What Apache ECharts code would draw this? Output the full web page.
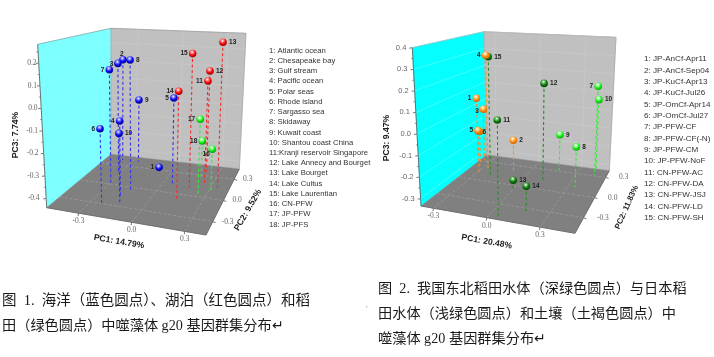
<!doctype html><html><head><meta charset="utf-8"><style>html,body{margin:0;background:#fff}#c{width:714px;height:357px}</style>
<script src="https://cdn.jsdelivr.net/npm/echarts@6/dist/echarts.min.js"></script></head><body><div id="c"></div>
<script>
// ---- Data: figure 1 ----
const a_names=["1: Atlantic ocean","2: Chesapeake bay","3: Gulf stream","4: Pacific ocean","5: Polar seas","6: Rhode island","7: Sargasso sea","8: Skidaway","9: Kuwait coast","10: Shantou coast China","11:Kranji reservoir Singapore","12: Lake Annecy and Bourget","13: Lake Bourget","14: Lake Cultus","15: Lake Laurentian","16: CN-PFW","17: JP-PFW","18: JP-PFS"];
const a_pc1=[-0.095,-0.368,-0.316,-0.174,0.069,-0.238,-0.293,-0.140,-0.261,-0.147,0.250,0.216,0.344,0.148,0.175,0.312,0.248,0.203];
const a_pc2=[0.321,0.381,0.194,-0.149,0.098,-0.287,0.013,-0.066,0.384,-0.240,0.196,0.358,0.159,-0.076,0.107,0.116,0.048,0.280];
const a_pc3=[-0.435,0.118,0.128,-0.090,-0.009,-0.105,0.122,0.188,-0.100,-0.127,0.068,0.089,0.269,0.059,0.213,-0.244,-0.089,-0.258];
const a_group=["ocean","ocean","ocean","ocean","ocean","ocean","ocean","ocean","ocean","ocean","lake","lake","lake","lake","lake","paddy","paddy","paddy"];
const a_labelSide=["L","T","TL","L","L","L","L","R","R","R","L","R","R","L","L","BL","L","L"];
// ---- Data: figure 2 ----
const b_names=["1: JP-AnCf-Apr11","2: JP-AnCf-Sep04","3: JP-KuCf-Apr13","4: JP-KuCf-Jul26","5: JP-OmCf-Apr14","6: JP-OmCf-Jul27","7: JP-PFW-CF","8: JP-PFW-CF(-N)","9: JP-PFW-CM","10: JP-PFW-NoF","11: CN-PFW-AC","12: CN-PFW-DA","13: CN-PFW-JSJ","14: CN-PFW-LD","15: CN-PFW-SH"];
const b_pc1=[-0.409,-0.106,-0.345,-0.254,-0.282,-0.332,0.417,0.345,0.172,0.400,0.049,0.122,-0.005,0.178,-0.193];
const b_pc2=[0.356,0.226,0.318,0.172,0.102,0.232,0.313,0.103,0.317,0.410,-0.478,0.140,-0.044,-0.371,0.067];
const b_pc3=[0.010,-0.170,-0.040,0.298,-0.103,-0.145,0.145,-0.127,-0.139,0.048,0.101,0.176,-0.293,-0.210,0.307];
const b_group=["soil","soil","soil","soil","soil","soil","jp","jp","jp","jp","cn","cn","cn","cn","cn"];
const b_labelSide=["L","R","LL","L","L","BR","L","R","R","R","R","R","R","R","R"];
const a_ticks3=[-0.4,-0.3,-0.2,-0.1,0,0.1,0.2], b_ticks3=[-0.3,-0.2,-0.1,0,0.1,0.2,0.3,0.4];
const ticks12=[-0.3,0,0.3];
const captions=[
 {x:2,y:302,s:14.5,t:"图  1.  海洋（蓝色圆点）、湖泊（红色圆点）和稻"},{x:2,y:327,s:14.2,t:"田（绿色圆点）中噬藻体 g20 基因群集分布↵"},
 {x:378,y:290,s:14.2,t:"图  2.  我国东北稻田水体（深绿色圆点）与日本稻"},{x:378,y:315,s:14.2,t:"田水体（浅绿色圆点）和土壤（土褐色圆点）中"},{x:378,y:340,s:14.2,t:"噬藻体 g20 基因群集分布↵"}];
// ---- Styling / geometry ----
const colors={ocean:["#9a9aff","#0a0af0","#00007a","#3434ee"],lake:["#ffa0a0","#f40808","#900000","#f02c2c"],paddy:["#b0ffb0","#10ee10","#009000","#30ee30"],soil:["#ffd8a0","#ff8c10","#c06000","#f09030"],jp:["#c0ffc0","#18f018","#00a000","#30ee30"],cn:["#90d090","#0a7a0a","#004000","#2a8a2a"]};
const boxA={A:[46.7,207.7],B:[111,154.3],C:[239.3,169],D:[206,235],Ap:[37.7,44.3],Bp:[111,28.3],Cp:[246,33.3],Dp:[212,55],x:[-0.48,0.42],y:[-0.49,0.447],z:[-0.441,0.283],cyan:"#7dffff",tf:"Liberation Serif",tc:"#666",zf:"Liberation Serif",zOff:[7,1.5],y2dx:9,t1:"PC1: 14.79%",t1p:[119,241.7],t2:"PC2: 9.52%",t2p:[248,210],t2r:60,t2s:8.6,t3:"PC3: 7.74%",t3p:[16,135],ticks3:a_ticks3};
const boxB={A:[421,206],B:[486.7,155],C:[609.3,170.7],D:[575,233.3],Ap:[412.3,47.7],Bp:[484,31.7],Cp:[616,37.3],Dp:[580.5,63.3],x:[-0.37,0.497],y:[-0.53,0.4],z:[-0.334,0.4],cyan:"#05ffff",tf:"Liberation Serif",tc:"#666",zf:"Liberation Sans",zOff:[6,6],y2dx:13.5,t1:"PC1: 20.48%",t1p:[486.7,241.7],t2:"PC2: 11.83%",t2p:[626.7,207.3],t2r:66,t2s:8,t3:"PC3: 9.47%",t3p:[386.7,138],ticks3:b_ticks3};
function lerp(a,b,t){return a+(b-a)*t;}
function proj(b,x,y,z){const u=(x-b.x[0])/(b.x[1]-b.x[0]),v=(y-b.y[0])/(b.y[1]-b.y[0]),t=(z-b.z[0])/(b.z[1]-b.z[0]);
 return [0,1].map(i=>{const f=(1-u)*(1-v)*b.A[i]+u*(1-v)*b.D[i]+u*v*b.C[i]+(1-u)*v*b.B[i];const c=(1-u)*(1-v)*b.Ap[i]+u*(1-v)*b.Dp[i]+u*v*b.Cp[i]+(1-u)*v*b.Bp[i];return f+t*(c-f);});}
const txt=(x,y,t,o)=>({type:'text',x,y,rotation:(o.r||0)*Math.PI/180,style:{text:t,x:0,y:0,fill:o.c||'#222',font:(o.w||'normal')+' '+(o.s||8)+'px "'+(o.f||'Liberation Sans')+'"',textAlign:o.a||'center',textVerticalAlign:'middle'},z2:o.z||5});
const line=(p,q,c,w,d)=>({type:'line',shape:{x1:p[0],y1:p[1],x2:q[0],y2:q[1]},style:{stroke:c,lineWidth:w||1,lineDash:d||null}});
const poly=(pts,c)=>({type:'polygon',shape:{points:pts},style:{fill:c,stroke:c,lineWidth:.5}});
function renderBox(b){return function(params,api){
 const g=(p)=>api.coord(p),[x0,x1]=b.x,[y0,y1]=b.y,[z0,z1]=b.z,ch=[];
 const P=(x,y,z)=>g(proj(b,x,y,z));
 ch.push(poly([P(x0,y0,z0),P(x0,y1,z0),P(x0,y1,z1),P(x0,y0,z1)],b.cyan));
 ch.push(poly([P(x0,y1,z0),P(x1,y1,z0),P(x1,y1,z1),P(x0,y1,z1)],'#c0c0c0'));
 ch.push(poly([P(x0,y0,z0),P(x1,y0,z0),P(x1,y1,z0),P(x0,y1,z0)],'#808080'));
 ch.push(line(P(x0,y1,z1),P(x1,y1,z1),'#a0a0a0',.8));ch.push(line(P(x1,y1,z1),P(x1,y1,z0),'#a8a8a8',.8));ch.push(line(P(x0,y1,z1),P(x0,y1,z0),'#a0a0a0',.6));
 ch.push(line(P(x0,y0,z1),P(x0,y1,z1),'#888',.6));ch.push(line(P(x0,y0,z1),P(x0,y0,z0),'#555',.8));ch.push(line(P(x0,y0,z0),P(x1,y0,z0),'#666',.8));ch.push(line(P(x1,y0,z0),P(x1,y1,z0),'#666',.8));
 ticks12.forEach(v=>{
  ch.push(line(P(v,y0,z0),P(v,y1,z0),'#a4a4a4',.6,[3,2]));ch.push(line(P(x0,v,z0),P(x1,v,z0),'#a4a4a4',.6,[3,2]));
  ch.push(line(P(v,y1,z0),P(v,y1,z1),'#cfcfcf',.5));
  const a=P(v,y0,z0),c=P(x1,v,z0);
  ch.push(line(a,[a[0]-.5,a[1]+3],'#555',.8));ch.push(line(c,[c[0]+3,c[1]+1],'#555',.8));
  ch.push(txt(a[0],a[1]+8,v==0?'0.0':v.toFixed(1),{s:7.5,f:b.tf,c:b.tc}));
  ch.push(txt(c[0]+b.y2dx,c[1],v==0?'0.0':v.toFixed(1),{s:7.5,f:b.tf,c:b.tc,a:'left'}));
 });
 b.ticks3.forEach((v,i)=>{const a=P(x0,y0,v),t=(v-z0)/(z1-z0),o=lerp(b.zOff[0],b.zOff[1],t);
  ch.push(line(a,[a[0]-3,a[1]+.5],'#555',.8));
  ch.push(line(P(x0,y0,v),P(x0,y1,v),'#9ff',.4));ch.push(line(P(x0,y1,v),P(x1,y1,v),'#cfcfcf',.4));
  const m=P(x0,y0,v+.05);if(v+.05<z1)ch.push(line(m,[m[0]-1.8,m[1]+.3],'#555',.6));
  ch.push(txt(a[0]-o,a[1],v==0?'0.0':v.toFixed(1),{s:7.5,f:b.zf,c:b.tc,a:'right'}));});
 const tf={s:8.6,w:'bold',c:'#222'};
 const A=proj(b,x0,y0,z0),D=proj(b,x1,y0,z0);const r1=Math.atan2(D[1]-A[1],D[0]-A[0])*180/Math.PI;
 ch.push(txt(...g(b.t1p),b.t1,{...tf,r:-r1}));ch.push(txt(...g(b.t2p),b.t2,{...tf,s:b.t2s,r:b.t2r}));ch.push(txt(...g(b.t3p),b.t3,{...tf,r:90}));
 return {type:'group',children:ch};};}
const off={L:[-5,0,'right'],R:[6,0,'left'],T:[-1,-6,'center'],TL:[-4.5,.5,'right'],BL:[-2.5,5,'right'],LL:[-4.5,2,'right'],BR:[3,1,'left']};
function renderPt(b,names,group,side){return function(params,api){
 const i=api.value(3),p=api.coord(proj(b,api.value(0),api.value(1),api.value(2))),f=api.coord(proj(b,api.value(0),api.value(1),b.z[0]));
 const c=colors[group[i]],o=off[side[i]],n=names[i].split(':')[0];
 return {type:'group',children:[
  line(p,f,c[3],1.1,[3,2.5]),
  {type:'circle',shape:{cx:p[0],cy:p[1],r:3.8},style:{fill:{type:'radial',x:.42,y:.3,r:.75,colorStops:[{offset:0,color:'#fff'},{offset:.18,color:c[0]},{offset:.55,color:c[1]},{offset:1,color:c[2]}]}},z2:3},
  txt(p[0]+o[0],p[1]+o[1],n,{s:6.5,w:'bold',a:o[2],c:'#222',z:6})]};};}
function rows(a,b,c){return a.map((v,i)=>[v,b[i],c[i],i]);}
const series=[
 {type:'custom',coordinateSystem:'cartesian2d',renderItem:renderBox(boxA),data:[[0,0]],silent:true,clip:false,z:1},
 {type:'custom',coordinateSystem:'cartesian2d',renderItem:renderBox(boxB),data:[[0,0]],silent:true,clip:false,z:1},
 {type:'custom',coordinateSystem:'cartesian2d',renderItem:renderPt(boxA,a_names,a_group,a_labelSide),data:rows(a_pc1,a_pc2,a_pc3),clip:false,z:2,encode:{x:0,y:1}},
 {type:'custom',coordinateSystem:'cartesian2d',renderItem:renderPt(boxB,b_names,b_group,b_labelSide),data:rows(b_pc1,b_pc2,b_pc3).reverse(),clip:false,z:2,encode:{x:0,y:1}},
];
const graphic=[];
a_names.forEach((t,i)=>graphic.push({type:'text',left:269,top:46.5+i*10.24,style:{text:t,fill:'#333',font:'7.7px "Liberation Sans"'}}));
b_names.forEach((t,i)=>graphic.push({type:'text',left:644,top:55+i*11.35,style:{text:t,fill:'#333',font:'8.1px "Liberation Sans"'}}));
captions.forEach(c=>graphic.push({type:'text',left:c.x,top:c.y-8,style:{text:c.t,fill:'#1a1a1a',font:c.s+'px "Liberation Serif","Noto Sans CJK SC"'}}));
graphic.push({type:'text',left:366,top:305,style:{text:"'",fill:'#888',font:'8px "Liberation Sans"'}});
const chart=echarts.init(document.getElementById('c'),null,{renderer:'canvas'});
chart.setOption({animation:false,backgroundColor:'#fff',
 grid:{left:0,right:0,top:0,bottom:0},
 xAxis:{type:'value',min:0,max:714,show:false},yAxis:{type:'value',min:0,max:357,inverse:true,show:false},
 series,graphic});
</script></body></html>
